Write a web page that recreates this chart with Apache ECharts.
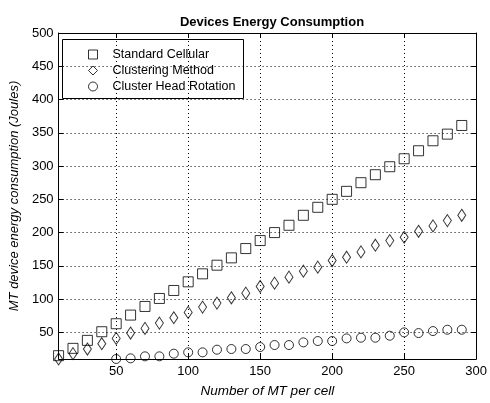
<!DOCTYPE html>
<html>
<head>
<meta charset="utf-8">
<script src="https://cdn.jsdelivr.net/npm/echarts@6/dist/echarts.min.js"></script>
<style>html,body{margin:0;padding:0;background:#fff;}#c{width:490px;height:403px;}</style>
</head>
<body>
<div id="c"></div>
<script>
const xValues = [10,20,30,40,50,60,70,80,90,100,110,120,130,140,150,160,170,180,190,200,210,220,230,240,250,260,270,280,290];
const standardCellular = [15,26,38,51,63,76,89,101,113,126,138,151,162,176,188,200,211,226,238,250,262,275,287,299,311,323,338,348,361];
const clusteringMethod = [10,18,25,33,41,49,56,64,72,80,88,94,102,109,119,124,133,142,148,158,163,171,181,188,193,202,210,218,226];
const chrX = [50,60,70,80,90,100,110,120,130,140,150,160,170,180,190,200,210,220,230,240,250,260,270,280,290];
const clusterHeadRotation = [10,11,14,14,18,20,20,24,25,25,28,31,31,35,37,37,41,42,42,45,50,49,52,54,54];
const xTicks = [50,100,150,200,250,300];
const yTicks = [50,100,150,200,250,300,350,400,450,500];
const seriesNames = ['Standard Cellular','Clustering Method','Cluster Head Rotation'];

const font = 'Liberation Sans, Arial, sans-serif';
const pair = (xs, ys) => xs.map((x,i)=>[x, ys[i]]);
const hollow = {color:'rgba(255,255,255,0)', borderColor:'#000', borderWidth:1};
const grid = {type:[1,3], color:'#000', width:1};

const chart = echarts.init(document.getElementById('c'), null, {renderer:'canvas'});
chart.setOption({
  animation:false,
  backgroundColor:'#fff',
  title:{text:'Devices Energy Consumption', left:267, textAlign:'center', top:11,
    textStyle:{fontFamily:font, fontSize:13, fontWeight:'bold', color:'#000'}},
  grid:{left:55, right:10, top:33, bottom:36, containLabel:false},
  legend:{
    orient:'vertical', left:83, top:43, itemWidth:9, itemHeight:9, itemGap:3,
    data:seriesNames,
    itemStyle:{color:'rgba(255,255,255,0)', borderColor:'#000', borderWidth:1},
    textStyle:{fontFamily:font, fontSize:12.5, color:'#000', padding:[0,0,0,10]},
    inactiveColor:'#000'
  },
  graphic:[{type:'rect', shape:{x:62.5, y:39.5, width:181, height:59}, style:{fill:'none', stroke:'#000', lineWidth:1}, z:5}],
  xAxis:[{
    type:'value', min:10, max:300, position:'bottom',
    name:'Number of MT per cell', nameLocation:'middle', nameGap:25,
    nameTextStyle:{fontFamily:font, fontSize:13.5, fontStyle:'italic', color:'#000'},
    axisLine:{show:true, onZero:false, lineStyle:{color:'#000'}},
    axisTick:{show:true, inside:true, length:5, customValues:xTicks, lineStyle:{color:'#000'}},
    axisLabel:{customValues:xTicks, fontFamily:font, fontSize:13, color:'#000', margin:6},
    splitLine:{show:true, lineStyle:grid}
  },{
    type:'value', min:10, max:300, position:'top',
    axisLine:{show:true, onZero:false, lineStyle:{color:'#000'}},
    axisTick:{show:true, inside:true, length:5, customValues:xTicks, lineStyle:{color:'#000'}},
    axisLabel:{show:false}, splitLine:{show:false}
  }],
  yAxis:[{
    type:'value', min:10, max:500, position:'left',
    name:'MT device energy consumption (Joules)', nameLocation:'middle', nameGap:36,
    nameTextStyle:{fontFamily:font, fontSize:13, fontStyle:'italic', color:'#000'},
    axisLine:{show:true, onZero:false, lineStyle:{color:'#000'}},
    axisTick:{show:true, inside:true, length:5, customValues:yTicks, lineStyle:{color:'#000'}},
    axisLabel:{customValues:yTicks, fontFamily:font, fontSize:13, color:'#000', margin:5},
    splitLine:{show:true, lineStyle:grid}
  },{
    type:'value', min:10, max:500, position:'right',
    axisLine:{show:true, onZero:false, lineStyle:{color:'#000'}},
    axisTick:{show:true, inside:true, length:5, customValues:yTicks, lineStyle:{color:'#000'}},
    axisLabel:{show:false}, splitLine:{show:false}
  }],
  series:[
    {name:seriesNames[0], type:'scatter', symbol:'rect', symbolSize:10, clip:false,
     itemStyle:hollow, data:pair(xValues, standardCellular), z:3},
    {name:seriesNames[1], type:'scatter', symbol:'diamond', symbolSize:[8,12], clip:false,
     itemStyle:hollow, data:pair(xValues, clusteringMethod), z:3},
    {name:seriesNames[2], type:'scatter', symbol:'circle', symbolSize:9, clip:false,
     itemStyle:hollow, data:pair(chrX, clusterHeadRotation), z:3}
  ]
});
</script>
</body>
</html>
